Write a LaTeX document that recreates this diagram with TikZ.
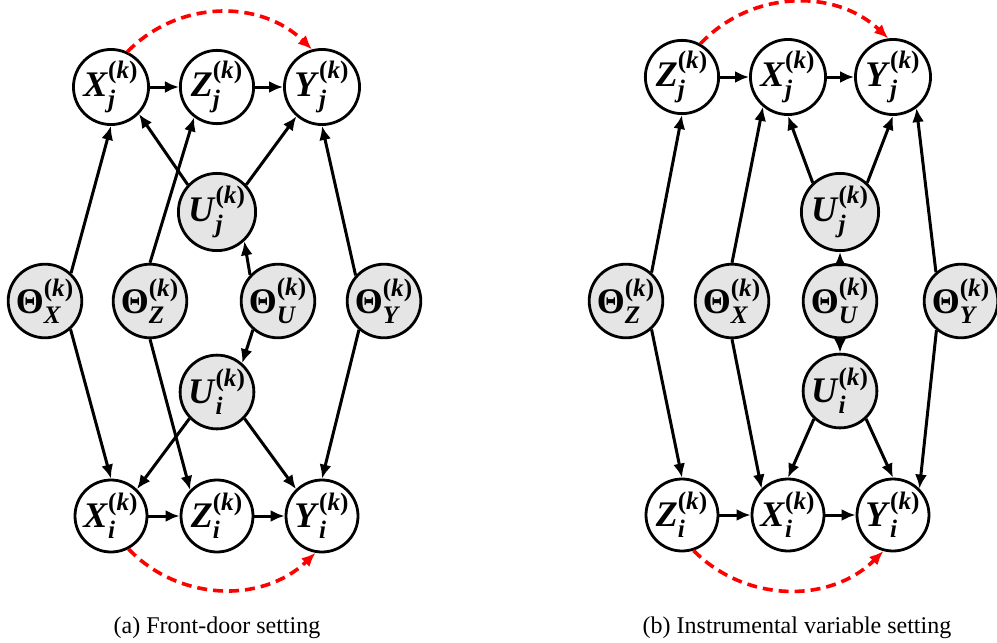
\documentclass[tikz,border=0pt]{standalone}
\usepackage{amsmath}
\usepackage{fontspec}
\setmainfont{Liberation Serif}
\usepackage{tikz}
\usetikzlibrary{arrows.meta,positioning}

\newcommand{\nv}[2]{\textbf{\textit{#1}}$^{\textbf{(\textit{k})}}_{\textbf{\textit{#2}}}$}
\newcommand{\tv}[1]{\textbf{Θ}$^{\textbf{(\textit{k})}}_{\textbf{\textit{#1}}}$}

\begin{document}
\begin{tikzpicture}[x=0.5pt,y=0.5pt]

\tikzset{var/.style={circle, draw=black, line width=1.4pt, fill=white, minimum size=36pt, inner sep=0pt, font=\fontsize{18}{20}\selectfont},
hid/.style={var, fill=black!10},
edge/.style={line width=1.5pt, -{Latex[length=7pt,width=6pt]}},
conf/.style={red, line width=1.8pt, dash pattern=on 5pt off 3pt, -{Latex[length=7pt,width=6pt]}},
captext/.style={font=\fontsize{12}{14}\selectfont}}

\useasboundingbox (0,0) rectangle (997,-643);

% (a) front-door
\node[var] (aXj) at (111,-87) {\nv{X}{j}};
\node[var] (aZj) at (217,-87) {\nv{Z}{j}};
\node[var] (aYj) at (322,-87) {\nv{Y}{j}};
\node[hid] (aUj) at (217,-212) {\nv{U}{j}};
\node[hid] (aThX) at (45,-301) {\tv{X}};
\node[hid] (aThZ) at (150,-301) {\tv{Z}};
\node[hid] (aThU) at (278,-301) {\tv{U}};
\node[hid] (aThY) at (384,-301) {\tv{Y}};
\node[hid] (aUi) at (217,-392) {\nv{U}{i}};
\node[var] (aXi) at (111,-516) {\nv{X}{i}};
\node[var] (aZi) at (217,-516) {\nv{Z}{i}};
\node[var] (aYi) at (322,-516) {\nv{Y}{i}};

\foreach \a/\b in {aXj/aZj, aZj/aYj, aXi/aZi, aZi/aYi, aThX.47/aXj.south, aThZ.north/aZj.-127, aThU.137/aUj.-47, aThY.138/aYj.south, aUj.137/aXj.-44, aUj.43/aYj.-131, aThX.-48/aXi.north, aThZ.south/aZi.136, aThU.-131/aUi.49, aThY.-131/aYi.north, aUi.-136/aXi.46, aUi.-44/aYi.134}
\draw[edge] (\a) -- (\b);

\draw[conf] (aXj.65) to[bend left=45] (aYj.105);
\draw[conf] (aXi.-62) to[bend right=45] (aYi.-100);

\node[captext] (acap) at (217,-628) {(a) Front-door setting};

% (b) instrumental variable
\node[var] (bZj) at (682,-77) {\nv{Z}{j}};
\node[var] (bXj) at (788,-77) {\nv{X}{j}};
\node[var] (bYj) at (893,-77) {\nv{Y}{j}};
\node[hid] (bUj) at (840,-212) {\nv{U}{j}};
\node[hid] (bThZ) at (626,-301) {\tv{Z}};
\node[hid] (bThX) at (732,-301) {\tv{X}};
\node[hid] (bThU) at (840,-301) {\tv{U}};
\node[hid] (bThY) at (961,-301) {\tv{Y}};
\node[hid] (bUi) at (840,-391) {\nv{U}{i}};
\node[var] (bZi) at (682,-515) {\nv{Z}{i}};
\node[var] (bXi) at (788,-515) {\nv{X}{i}};
\node[var] (bYi) at (893,-515) {\nv{Y}{i}};

\foreach \a/\b in {bZj/bXj, bXj/bYj, bZi/bXi, bXi/bYi, bThZ.48/bZj.south, bThX.north/bXj.-130, bThU.north/bUj.south, bThY.131/bYj.-53, bUj.133/bXj.south, bUj.47/bYj.south, bThZ.-48/bZi.north, bThX.south/bXi.135, bThU.south/bUi.north, bThY.-130/bYi.45, bUi.-133/bXi.north, bUi.-47/bYi.north}
\draw[edge] (\a) -- (\b);

\draw[conf] (bZj.61) to[bend left=45] (bYj.97);
\draw[conf] (bZi.-72) to[bend right=45] (bYi.-105);

\node[captext] (bcap) at (797,-628) {(b) Instrumental variable setting};

\end{tikzpicture}
\end{document}
